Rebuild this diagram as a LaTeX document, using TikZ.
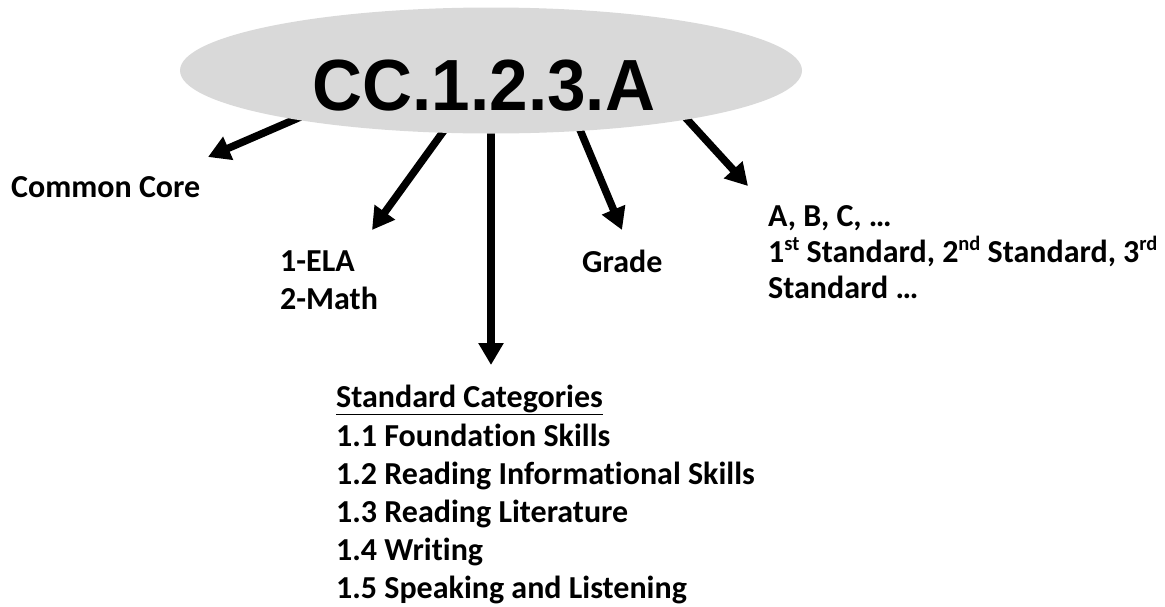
\documentclass[tikz,border=0pt]{standalone}
\usepackage{fontspec}
\setmainfont{Carlito}[Ligatures={NoCommon,NoContextual}]
\newfontfamily\codefont{Liberation Sans}
\usetikzlibrary{arrows.meta, shapes.geometric, backgrounds}

\newcommand{\ordsup}[1]{\raisebox{0.35em}{\fontsize{20.5}{20}\selectfont #1}}
\tikzset{
  lbl/.style={anchor=base west, inner sep=0pt, font=\fontsize{32}{38}\selectfont\bfseries},
  bigarrow/.style={line width=7.5pt, shorten <=-6pt, -{Triangle[length=22pt,width=24pt]}},
}

\begin{document}
\begin{tikzpicture}[x=1pt,y=-1pt]
        \useasboundingbox (0,0) rectangle (1165,606);
        \node[ellipse, fill=black!15, minimum width=622pt, minimum height=126pt, inner sep=0pt, outer sep=0pt] (ell) at (491,70.5) {};
        \node[anchor=base, inner sep=0pt, font=\codefont\bfseries\fontsize{72.5}{72}\selectfont] (code) at (484,110) {\scalebox{0.955}[1]{CC.1.2.3.A}};
        % labels
        \node[lbl] (core) at (11,197) {Common Core};
        \node[lbl] (ela) at (280,271) {1-ELA};
        \node[lbl] (math) at (280,309) {2-Math};
        \node[lbl] (grade) at (582,272) {Grade};
        \node[lbl] (abc) at (768,226) {A, B, C, …};
        \node[lbl] (ord) at (768,262) {1\ordsup{st} Standard, 2\ordsup{nd} Standard, 3\ordsup{rd}};
        \node[lbl] (stdmore) at (768,298) {Standard …};
        \node[lbl] (cathead) at (336,407) {\underline{Standard Categories}};
        \foreach \t [count=\k] in {1.1 Foundation Skills, 1.2 Reading Informational Skills, 1.3 Reading Literature, 1.4 Writing, 1.5 Speaking and Listening}
            \node[lbl] (cat\k) at (336,{408+38*\k}) {\t};
        % arrow tips
        \coordinate (tipcore) at (208,157);
        \coordinate (tipsubj) at (372,230);
        \coordinate (tipcat) at (491,365);
        \coordinate (tipgrade) at (622,230);
        \coordinate (tipstd) at (748,186);
        \begin{pgfonlayer}{background}
            \draw[bigarrow] (ell.194) -- (tipcore);
            \draw[bigarrow] (ell.232) -- (tipsubj);
            \draw[bigarrow] (ell.270) -- (tipcat);
            \draw[bigarrow] (ell.326) -- (tipgrade);
            \draw[bigarrow] (ell.346) -- (tipstd);
        \end{pgfonlayer}
\end{tikzpicture}
\end{document}
